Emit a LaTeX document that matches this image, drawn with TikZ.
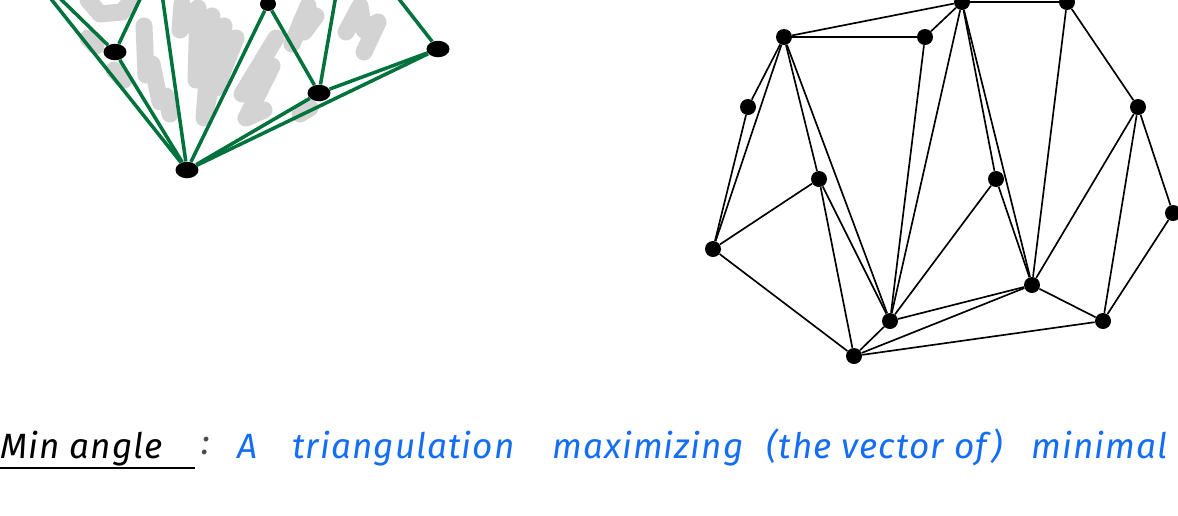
\documentclass[tikz,border=0pt]{standalone}
\usepackage{fontspec}
\usepackage{xcolor}
\setmainfont{Fira Sans}
\newfontfamily\handfont[LetterSpace=3]{Fira Sans}
\usetikzlibrary{shapes.geometric, positioning}
\definecolor{edgegreen}{RGB}{0,115,60}
\definecolor{scribble}{RGB}{211,211,211}
\definecolor{inkblue}{RGB}{20,110,245}

\begin{document}
\begin{tikzpicture}[x=0.02cm, y=-0.02cm,
dot/.style={circle, fill=black, inner sep=0pt, minimum size=0.32cm},
blob/.style={ellipse, fill=black, inner sep=0pt, minimum width=0.46cm, minimum height=0.33cm},
edge/.style={draw=black, line width=0.95pt},
green_edge/.style={draw=edgegreen, line width=2pt},
shade_stroke/.style={draw=scribble, line width=0.34cm, line cap=round, line join=round},
word/.style={anchor=base west, inner sep=0pt, font=\handfont\itshape\fontsize{20}{22}\selectfont, text=inkblue},
title/.style={anchor=base west, inner sep=0pt, font=\handfont\itshape\fontsize{20}{22}\selectfont, text=black}
]
\useasboundingbox (0,0) rectangle (1178,515);
\clip (0,0) rectangle (1178,515);

% Left picture - shaded triangles
\draw[shade_stroke] (88,0) -- (100,14) -- (122,12) -- (132,0);
\draw[shade_stroke] (88,38) -- (96,46);
\draw[shade_stroke] (114,70) -- (124,80);
\draw[shade_stroke] (144,26) -- (146,75) -- (152,64) -- (160,102) -- (166,96) -- (170,114);
\draw[shade_stroke] (182,4) -- (180,30) -- (198,8) -- (196,80) -- (212,16) -- (204,118) -- (224,26) -- (216,88) -- (236,38);
\draw[shade_stroke] (276,38) -- (242,94) -- (272,66) -- (246,118) -- (264,110);
\draw[shade_stroke] (292,44) -- (308,6) -- (304,32) -- (316,16);
\draw[shade_stroke] (300,114) -- (310,108);
\draw[shade_stroke] (346,32) -- (360,6) -- (364,30) -- (378,22) -- (364,52);

% Left picture - points
\node[blob] (g_left) at (115,52) {};
\node[blob] (g_bottom) at (187,170) {};
\node[blob, minimum width=0.32cm, minimum height=0.28cm] (g_top) at (268,4) {};
\node[blob] (g_mid) at (319,93) {};
\node[blob] (g_right) at (438,49) {};

% Left picture - ends outside the page
\coordinate (g_out_a) at (28,-30);
\coordinate (g_out_b) at (35,-26);
\coordinate (g_out_c) at (152,-26);
\coordinate (g_out_d) at (158,-34);
\coordinate (g_out_e) at (340,-28);
\coordinate (g_out_f) at (381,-24);
\coordinate (g_out_g) at (255,-20);

% Left picture - green edges
\draw[green_edge] (g_out_a) -- (g_bottom);
\draw[green_edge] (g_out_b) -- (g_left);
\draw[green_edge] (g_left) -- (g_out_c);
\draw[green_edge] (g_left) -- (g_bottom);
\draw[green_edge] (g_out_d) -- (g_bottom);
\draw[green_edge] (g_bottom) -- (g_top);
\draw[green_edge] (g_top) -- (g_out_g);
\draw[green_edge] (g_top) -- (g_mid);
\draw[green_edge] (g_mid) -- (g_out_e);
\draw[green_edge] (g_right) -- (g_out_f);
\draw[green_edge] (g_bottom) -- (g_mid);
\draw[green_edge] (g_mid) -- (g_right);
\draw[green_edge] (g_bottom) -- (g_right);

% Right picture - points
\node[dot] (top_left) at (784,37) {};
\node[dot] (top_mid) at (925,37) {};
\node[dot] (top_peak) at (962,2) {};
\node[dot] (top_right) at (1067,2) {};
\node[dot] (left_upper) at (748,107) {};
\node[dot] (right_upper) at (1138,107) {};
\node[dot] (inner_left) at (819,179) {};
\node[dot] (inner_right) at (996,179) {};
\node[dot] (right_far) at (1173,213) {};
\node[dot] (left_far) at (713,249) {};
\node[dot] (inner_low) at (1032,285) {};
\node[dot] (low_mid) at (890,321) {};
\node[dot] (low_right) at (1103,321) {};
\node[dot] (bottom) at (854,356) {};

% Right picture - edges
\draw[edge] (top_left) -- (top_peak);
\draw[edge] (top_left) -- (top_mid);
\draw[edge] (top_mid) -- (top_peak);
\draw[edge] (top_peak) -- (top_right);
\draw[edge] (top_left) -- (left_upper);
\draw[edge] (top_left) -- (left_far);
\draw[edge] (left_upper) -- (left_far);
\draw[edge] (top_left) -- (inner_left);
\draw[edge] (top_left) -- (low_mid);
\draw[edge] (inner_left) -- (left_far);
\draw[edge] (left_far) -- (bottom);
\draw[edge] (inner_left) -- (bottom);
\draw[edge] (inner_left) -- (low_mid);
\draw[edge] (top_mid) -- (low_mid);
\draw[edge] (top_peak) -- (low_mid);
\draw[edge] (top_peak) -- (inner_right);
\draw[edge] (top_peak) -- (inner_low);
\draw[edge] (inner_right) -- (inner_low);
\draw[edge] (inner_right) -- (low_mid);
\draw[edge] (top_right) -- (inner_low);
\draw[edge] (top_right) -- (right_upper);
\draw[edge] (right_upper) -- (inner_low);
\draw[edge] (right_upper) -- (low_right);
\draw[edge] (right_upper) -- (right_far);
\draw[edge] (right_far) -- (low_right);
\draw[edge] (inner_low) -- (low_mid);
\draw[edge] (inner_low) -- (bottom);
\draw[edge] (inner_low) -- (low_right);
\draw[edge] (low_mid) -- (bottom);
\draw[edge] (bottom) -- (low_right);

% Bottom text
\node[title] (min_label) at (0,458) {Min angle};
\draw[line width=1.6pt] (0,468) -- (195,468);
\node[title, text=black!70] (colon) at (201,454) {:};
\node[word] (w_a) at (237,458) {A};
\node[word] (w_tri) at (292,458) {triangulation};
\node[word] (w_max) at (552,458) {maximizing};
\node[word] (w_vec) at (766,458) {(the vector of)};
\node[word, anchor=base east] (w_min) at (1168,458) {minimal};

\end{tikzpicture}
\end{document}
